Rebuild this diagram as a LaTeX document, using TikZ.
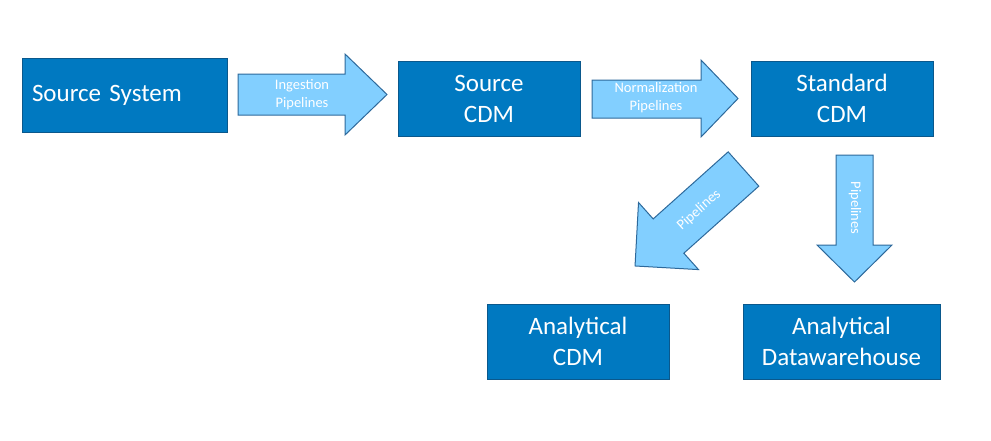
\documentclass[tikz,border=0pt]{standalone}
\usepackage{fontspec}
\setmainfont{Carlito}
\usepackage{tikz}

\definecolor{boxblue}{RGB}{0,121,193}
\definecolor{boxline}{RGB}{10,88,140}
\definecolor{pipefill}{RGB}{130,207,255}
\definecolor{pipeline}{RGB}{45,105,155}

\tikzset{
  box/.style={draw=boxline,line width=1pt,fill=boxblue,text=white,align=center,
    minimum height=75pt,inner sep=0pt,font=\fontsize{25}{31}\selectfont},
  pipe/.style={draw=pipeline,line width=1pt,fill=pipefill,line join=miter},
  pipelabel/.style={text=white,align=center,inner sep=0pt,font=\fontsize{14.5}{18}\selectfont}
}

\begin{document}
\begin{tikzpicture}[x=1pt,y=-1pt]
		\useasboundingbox (0,0) rectangle (991,440);
		% boxes
		\node[box,minimum width=205pt,minimum height=74pt,text width=185pt,align=left,inner xsep=10pt] (srcsys) at (124.5,95) {Source System};
		\node[box,minimum width=182pt] (srccdm) at (489,98.5) {Source\\CDM};
		\node[box,minimum width=182pt] (stdcdm) at (842,98.5) {Standard\\CDM};
		\node[box,minimum width=182pt] (anacdm) at (578,341.5) {Analytical\\CDM};
		\node[box,minimum width=197pt] (anadwh) at (841.5,341.5) {Analytical\\Datawarehouse};
		
		% block arrows
		\draw[pipe] (238,74) -- (345,74) -- (345,54) -- (387,94.5) -- (345,135) -- (345,115) -- (238,115) -- cycle;
		\node[pipelabel] (ingest) at (302,95) {Ingestion\\Pipelines};
		
		\draw[pipe] (592,80) -- (701,80) -- (701,60) -- (738,98.5) -- (701,137) -- (701,118) -- (592,118) -- cycle;
		\node[pipelabel] (norm) at (656,98) {Normalization\\Pipelines};
		
		\draw[pipe] (836,155) -- (873,155) -- (873,245) -- (892,245) -- (854.5,282) -- (817,245) -- (836,245) -- cycle;
		\node[pipelabel,rotate=-90] (pipedown) at (855,208) {Pipelines};
		
		\begin{scope}[shift={(743.5,169)},rotate=221.8]
		\draw[pipe] (0,-23) -- (100.6,-23) -- (100.6,-45) -- (145.5,0) -- (100.6,45) -- (100.6,23) -- (0,23) -- cycle;
		\end{scope}
		\node[pipelabel,rotate=41.8] (pipediag) at (699,210) {Pipelines};
	\end{tikzpicture}
\end{document}
